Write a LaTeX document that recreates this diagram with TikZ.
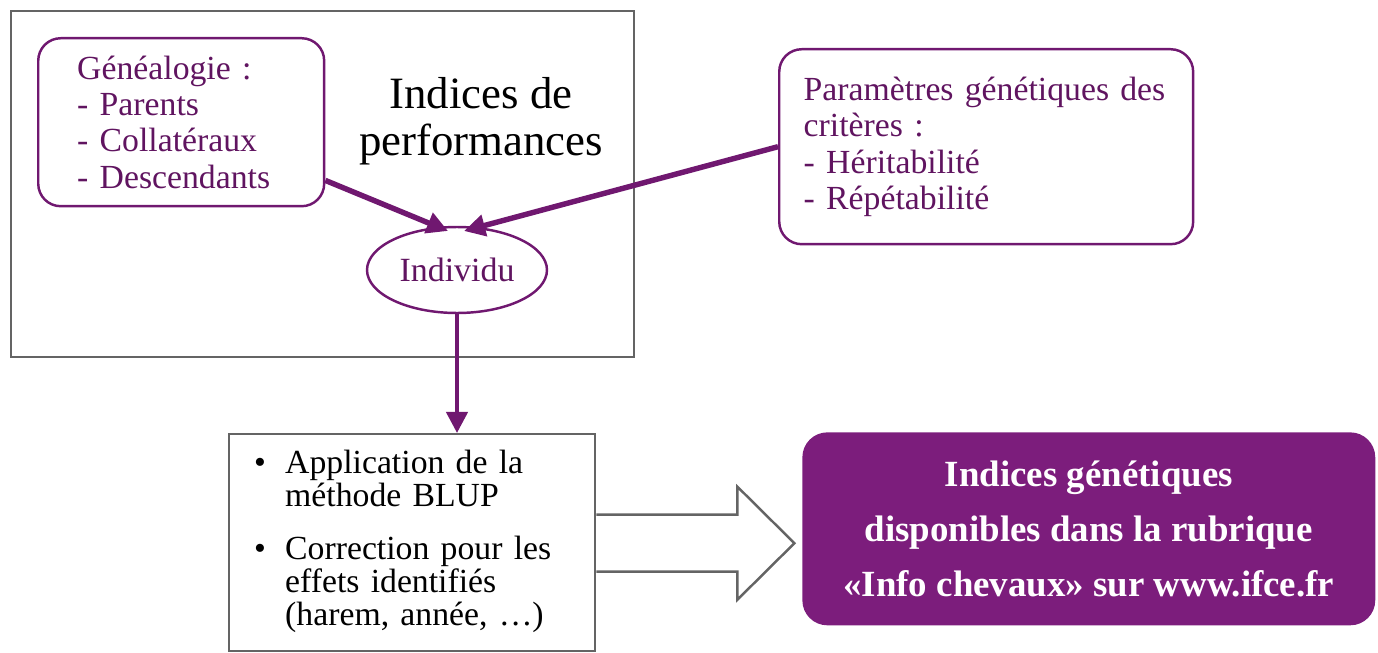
\documentclass[tikz,border=0pt]{standalone}
\usepackage{fontspec}
\setmainfont{Liberation Serif}
\usetikzlibrary{shapes.geometric,arrows.meta,calc}
\definecolor{frame}{RGB}{100,100,100}
\definecolor{pline}{RGB}{112,24,112}
\definecolor{ptext}{RGB}{96,20,96}
\definecolor{pfill}{RGB}{124,29,124}
\begin{document}
\begin{tikzpicture}[x=0.02cm,y=-0.02cm,
  pbox/.style={draw=pline, line width=1.4pt, rounded corners=0.45cm, text=ptext, align=left,
    font=\fontsize{19.2}{20.7}\selectfont},
  gbox/.style={draw=frame, line width=1.4pt},
  parr/.style={draw=pline, line width=3.1pt, -{Triangle[length=12pt,width=12pt]}},
  blockarrow/.style={draw=frame, line width=1.4pt, line join=miter}]
\useasboundingbox (0,0) rectangle (1378,652);
\node[gbox, anchor=north west, minimum width=12.46cm, minimum height=6.92cm] (outer) at (10,10) {};
\node[pbox, anchor=north west, text width=4.16cm, inner xsep=0.78cm, minimum height=3.36cm] (gen) at (37,37)
  {Généalogie :\\- Parents\\- Collatéraux\\- Descendants};
\node[font=\fontsize{25.5}{26.6}\selectfont, align=center] (perf) at (481,121) {Indices de\\performances};
\node[draw=pline, line width=1.4pt, ellipse, minimum width=3.6cm, minimum height=1.72cm, inner sep=0pt,
  text=ptext, font=\fontsize{19.3}{20}\selectfont] (ind) at (457,270) {Individu};
\node[pbox, anchor=north west, text width=7.3cm, inner xsep=0.49cm, minimum height=3.9cm] (par) at (778,48)
  {Paramètres génétiques des\\critères :\\- Héritabilité\\- Répétabilité};
\node[gbox, anchor=north west, text width=6.32cm, inner xsep=0.5cm, minimum height=4.34cm, align=left,
  font=\fontsize{19.2}{18.2}\selectfont] (blup) at (228,433)
  {\begin{tabular}[t]{@{}p{0.62cm}@{}l@{}}
   \textbullet & Application de la\\
    & méthode BLUP\\[0.4cm]
   \textbullet & Correction pour les\\
    & effets identifiés\\
    & (harem, année, …)
   \end{tabular}};
\node[fill=pfill, rounded corners=0.5cm, anchor=north west, minimum width=11.46cm, minimum height=3.86cm,
  text=white, align=center, font=\bfseries\fontsize{21}{31.2}\selectfont] (res) at (802,432)
  {Indices génétiques\\disponibles dans la rubrique\\«Info chevaux» sur www.ifce.fr};
\coordinate (t1) at (448,231);
\coordinate (t2) at (464,231);
\draw[parr] ($(gen.south east)+(0,-27)$) -- (t1);
\draw[parr] (par.west) -- (t2);
\draw[parr, line width=2.4pt] (ind.south) -- (ind.south |- blup.north);
\draw[blockarrow] ($(blup.east)+(0,-28)$) -- ++(141,0) -- ++(0,-28) -- ++(57,56.5)
  -- ++(-57,56.5) -- ++(0,-28) -- ++(-141,0);
\end{tikzpicture}
\end{document}
